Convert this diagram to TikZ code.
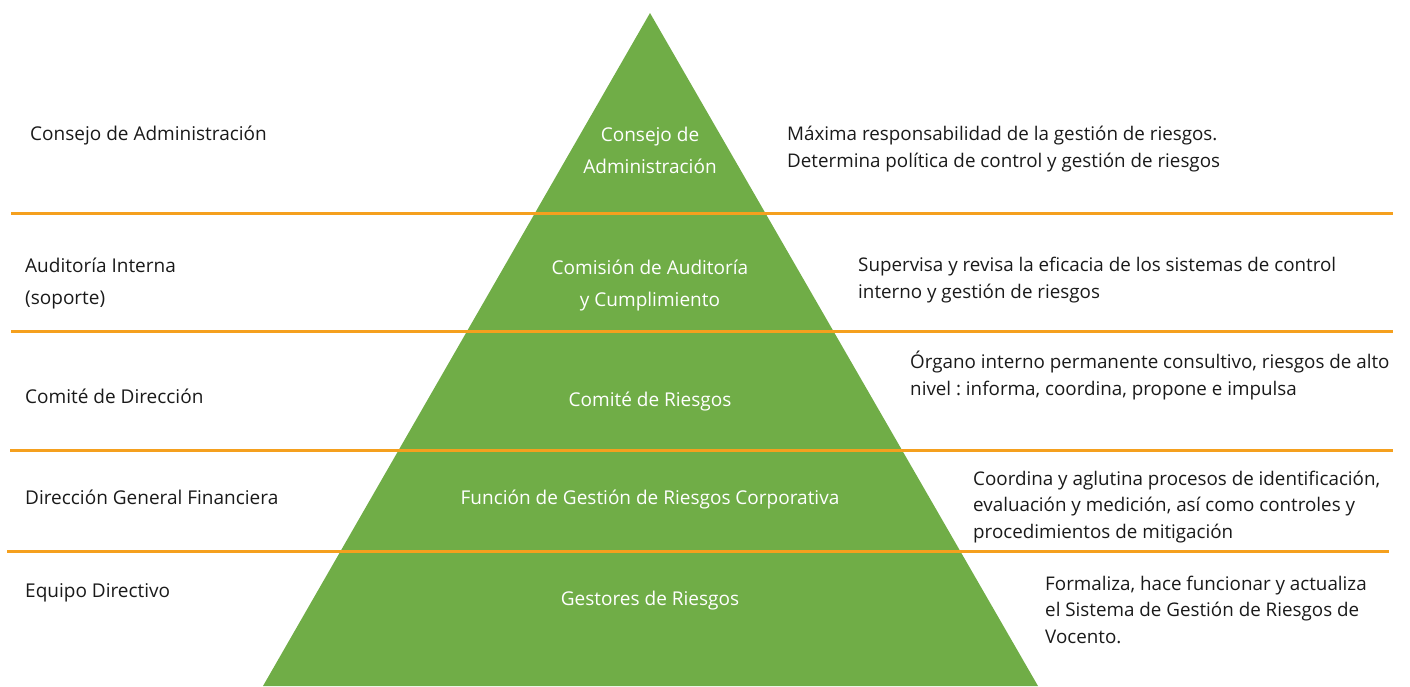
\documentclass[tikz,border=0pt]{standalone}
\usepackage{fontspec}
\setmainfont{Open Sans}
\frenchspacing
\definecolor{pyrgreen}{RGB}{112,173,71}
\definecolor{lineorange}{RGB}{245,160,30}
\definecolor{txt}{RGB}{26,26,26}
\begin{document}
\begin{tikzpicture}[x=1pt,y=-1pt,
  sep/.style={draw=lineorange,line width=3pt},
  lefttxt/.style={anchor=base west,inner sep=0pt,align=left,text=txt,font=\fontsize{19}{32}\selectfont},
  midtxt/.style={anchor=base,inner sep=0pt,align=center,text=white,font=\fontsize{19}{32}\selectfont},
  righttxt/.style={anchor=base west,inner sep=0pt,align=left,text=txt,font=\fontsize{18.8}{26.5}\selectfont}]
\useasboundingbox (0,0) rectangle (1410,686);
% pyramid
\coordinate (apex) at (650,13);
\coordinate (bl) at (263,686);
\coordinate (br) at (1038,686);
\fill[pyrgreen] (apex) -- (br) -- (bl) -- cycle;
% separators
\coordinate (s1a) at (11,213);  \coordinate (s1b) at (1393,213);
\coordinate (s2a) at (11,331);  \coordinate (s2b) at (1393,331);
\coordinate (s3a) at (10,450);  \coordinate (s3b) at (1393,450);
\coordinate (s4a) at (7,551);   \coordinate (s4b) at (1389,551);
\draw[sep] (s1a) -- (s1b);
\draw[sep] (s2a) -- (s2b);
\draw[sep] (s3a) -- (s3b);
\draw[sep] (s4a) -- (s4b);
% left labels (anchor = baseline of last line)
\node[lefttxt] (l1) at (30,140) {Consejo de Administración};
\node[lefttxt] (l2) at (25,304) {Auditoría Interna\\(soporte)};
\node[lefttxt] (l3) at (25,403) {Comité de Dirección};
\node[lefttxt] (l4) at (25,504) {Dirección General Financiera};
\node[lefttxt] (l5) at (25,597) {Equipo Directivo};
% pyramid labels
\node[midtxt] (m1) at (650,173) {Consejo de\\Administración};
\node[midtxt] (m2) at (650,306) {Comisión de Auditoría\\y Cumplimiento};
\node[midtxt] (m3) at (650,406) {Comité de Riesgos};
\node[midtxt] (m4) at (650,504) {Función de Gestión de Riesgos Corporativa};
\node[midtxt] (m5) at (650,605) {Gestores de Riesgos};
% right descriptions
\node[righttxt] (r1) at (787,167) {Máxima responsabilidad de la gestión de riesgos.\\Determina política de control y gestión de riesgos};
\node[righttxt] (r2) at (858,298) {Supervisa y revisa la eficacia de los sistemas de control\\interno y gestión de riesgos};
\node[righttxt] (r3) at (910,395) {Órgano interno permanente consultivo, riesgos de alto\\nivel : informa, coordina, propone e impulsa};
\node[righttxt] (r4) at (973,538) {Coordina y aglutina procesos de identificación,\\evaluación y medición, así como controles y\\procedimientos de mitigación};
\node[righttxt] (r5) at (1045,643) {Formaliza, hace funcionar y actualiza\\el Sistema de Gestión de Riesgos de\\Vocento.};
\end{tikzpicture}
\end{document}
